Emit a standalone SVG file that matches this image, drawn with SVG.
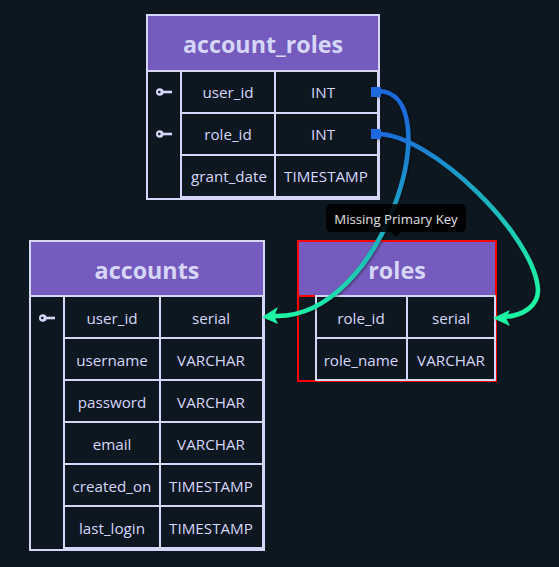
<svg xmlns="http://www.w3.org/2000/svg" width="559" height="567" viewBox="0 0 559 567">
<style>
text{font-family:"Open Sans","Noto Sans","Liberation Sans",sans-serif;text-anchor:middle}
.t{font-size:23.3px;font-weight:700;fill:#d6d6fa}
.c{font-size:15.2px;fill:#d6d6fa}
.h{fill:#755bbd}
.l{stroke:#d6d6fa;stroke-width:2;fill:none}
.r{stroke:#ff0000;stroke-width:2;fill:none}
.w{fill:none;stroke-width:4.5;stroke-linecap:butt}
.k{fill:#d6d6fa}
.s{fill:#1a68dc}
</style>
<defs>
<linearGradient id="g1" gradientUnits="userSpaceOnUse" x1="375" y1="91" x2="275" y2="318"><stop offset="0" stop-color="#1a68dc"/><stop offset="1" stop-color="#1cf5a4"/></linearGradient>
<linearGradient id="g2" gradientUnits="userSpaceOnUse" x1="375" y1="134" x2="510" y2="318"><stop offset="0" stop-color="#1a68dc"/><stop offset="1" stop-color="#1cf5a4"/></linearGradient>
<g id="key"><circle cx="3.8" cy="0" r="3.8" class="k"/><rect x="6" y="-1.3" width="10" height="2.6" class="k"/><circle cx="3.3" cy="0" r="1.3" fill="#0d1720"/></g>
<filter id="sh" x="-20%" y="-20%" width="140%" height="140%"><feDropShadow dx="1" dy="1" stdDeviation="1.5" flood-color="#000" flood-opacity=".5"/></filter>
</defs>
<rect width="559" height="567" fill="#0d1720"/>
<g id="account_roles">
<rect x="147" y="15" width="232" height="55" class="h"/>
<text x="263" y="53" class="t">account_roles</text>
<path class="l" d="M147 15H379V199H147ZM147 71H379M181 71V199M275 71V197M181 113H378M181 155H378M181 197H378M378 71V197"/>
<use href="#key" x="156" y="92"/><use href="#key" x="156" y="134"/>
<text x="228" y="98" class="c">user_id</text><text x="323" y="98" class="c">INT</text>
<text x="228" y="140" class="c">role_id</text><text x="323" y="140" class="c">INT</text>
<text x="229" y="182" class="c">grant_date</text><text x="326" y="182" class="c">TIMESTAMP</text>
</g>
<g id="accounts">
<rect x="30" y="241" width="234" height="55" class="h"/>
<text x="147" y="279" class="t">accounts</text>
<path class="l" d="M30 241H264V550H30ZM30 296H264M64 296V549M160 296V549M64 338H263M64 380H263M64 422H263M64 464H263M64 506H263M64 548H263M263 296V549"/>
<use href="#key" x="39" y="318"/>
<text x="112" y="324" class="c">user_id</text><text x="211" y="324" class="c">serial</text>
<text x="112" y="366" class="c">username</text><text x="211" y="366" class="c">VARCHAR</text>
<text x="112" y="408" class="c">password</text><text x="211" y="408" class="c">VARCHAR</text>
<text x="112" y="450" class="c">email</text><text x="211" y="450" class="c">VARCHAR</text>
<text x="112" y="492" class="c">created_on</text><text x="211" y="492" class="c">TIMESTAMP</text>
<text x="112" y="534" class="c">last_login</text><text x="211" y="534" class="c">TIMESTAMP</text>
</g>
<g id="roles">
<rect x="298" y="241" width="198" height="55" class="h"/>
<text x="397" y="279" class="t">roles</text>
<path class="r" d="M298 241H496V381H298ZM298 296H316"/>
<path class="l" d="M316 296H495V380H316ZM407 296V380M316 338H495"/>
<text x="361" y="324" class="c">role_id</text><text x="451" y="324" class="c">serial</text>
<text x="361" y="366" class="c">role_name</text><text x="451" y="366" class="c">VARCHAR</text>
</g>
<g id="connectors" filter="url(#sh)">
<path class="w" stroke="url(#g1)" d="M378 91C450 91 385 320 274 316"/>
<path class="w" stroke="url(#g2)" d="M378 134C430 134 535 235 538 290C538 305 525 315 505 317"/>
<rect x="371" y="87" width="10" height="10" class="s"/><rect x="371" y="129" width="10" height="10" class="s"/>
<path d="M262 317L278 307L274 316L278 324Z" fill="#1cf5a4"/>
<path d="M493 318L510 310L506 318L510 326Z" fill="#1cf5a4"/>
</g>
<g id="tooltip">
<rect x="326" y="204" width="140" height="28" rx="5" fill="#000" fill-opacity=".88"/>
<path d="M391 232H401L396 237Z" fill="#000" fill-opacity=".88"/>
<text x="396" y="224" font-size="13.2px" fill="#e0e0e0">Missing Primary Key</text>
</g>
</svg>
